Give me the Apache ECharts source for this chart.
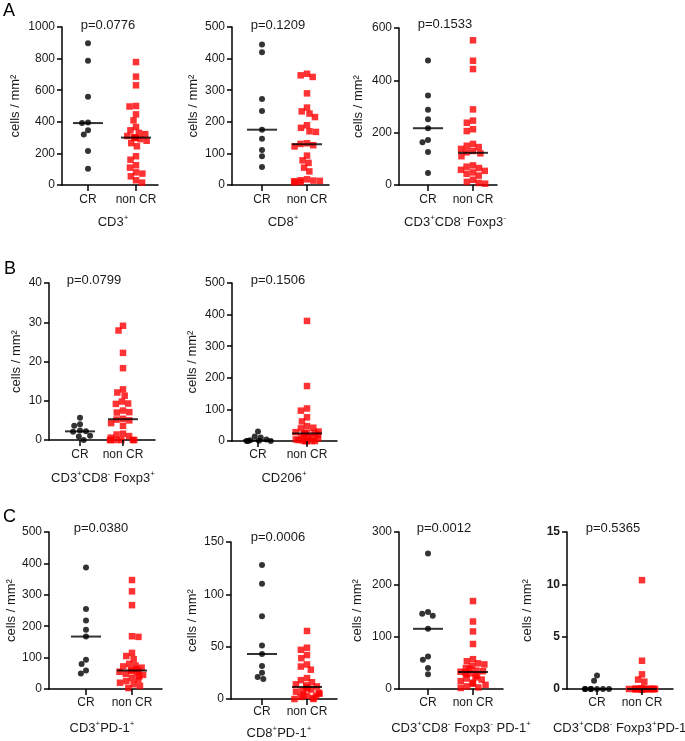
<!DOCTYPE html>
<html><head><meta charset="utf-8">
<script src="https://cdn.jsdelivr.net/npm/echarts@6/dist/echarts.min.js"></script>
<style>html,body{margin:0;padding:0;background:#fff}#c{width:685px;height:741px}</style>
</head><body><div id="c"></div>
<script>
// ---------- DATA ----------
const categories = ['CR', 'non CR'];

const cd3CR  = [897, 787, 559, 396, 392, 346, 319, 215, 103];
const cd3Non = [778, 686, 631, 500, 497, 447, 409, 367, 346, 330, 322, 310, 302, 300, 298, 290, 280, 265, 245, 182, 160, 125, 110, 80, 72, 55, 30, 15];
const cd3Median = [392, 300];

const cd8CR  = [445, 420, 272, 234, 175, 146, 111, 91, 57];
const cd8Non = [352, 347, 342, 290, 245, 233, 226, 215, 189, 181, 170, 168, 132, 130, 126, 122, 93, 78, 70, 55, 43, 18, 15, 14, 13, 12, 10, 8];
const cd8Median = [175, 129];

const foxNegCR  = [476, 342, 288, 251, 217, 172, 163, 126, 46];
const foxNegNon = [553, 475, 443, 289, 246, 238, 213, 206, 157, 150, 145, 138, 130, 125, 121, 110, 75, 70, 65, 58, 54, 48, 43, 36, 20, 12, 8, 5];
const foxNegMedian = [217, 123];

const foxPosCR  = [5.7, 4.0, 3.6, 2.4, 2.2, 2.1, 1.1, 0.9, 0];
const foxPosNon = [29.1, 27.9, 22.2, 18.3, 12.9, 12.1, 11.3, 9.8, 9.3, 9.2, 7.5, 7.1, 7.0, 5.4, 5.2, 5.0, 4.3, 3.6, 1.6, 1.4, 1.0, 0.6, 0, 0, 0, 0, 0, 0];
const foxPosMedian = [2.2, 5.3];

const cd206CR  = [30, 14, 11, 5, 2, 1, 0, 0, 0];
const cd206Non = [380, 174, 103, 96, 75, 62, 47, 42, 40, 30, 28, 26, 25, 24, 23, 20, 15, 12, 10, 8, 5, 3, 2, 0, 0, 0, 0, 0];
const cd206Median = [2, 24];

const cd3pdCR  = [387, 255, 218, 189, 167, 93, 80, 59, 49];
const cd3pdNon = [347, 311, 267, 168, 166, 115, 105, 95, 80, 75, 72, 68, 64, 60, 58, 57, 55, 52, 48, 45, 40, 35, 30, 25, 20, 15, 10, 3];
const cd3pdMedian = [167, 59];

const cd8pdCR  = [128, 110, 79, 51, 43, 31.5, 25, 21, 19];
const cd8pdNon = [65, 49, 47, 42, 39, 33, 31, 28, 20, 18, 16, 14, 13, 12, 11, 10, 9, 8, 7, 6, 5, 4, 3, 3, 2, 1, 0, 0];
const cd8pdMedian = [43, 11.5];

const foxNegPdCR  = [259, 147, 144, 140, 115, 62, 56, 40, 28];
const foxNegPdNon = [168, 129, 110, 86, 57, 53, 49, 47, 44, 40, 38, 35, 34, 33, 32, 30, 28, 25, 22, 20, 18, 15, 12, 10, 8, 5, 3, 2];
const foxNegPdMedian = [115, 32.5];

const foxPosPdCR  = [1.3, 0.8, 0, 0, 0, 0, 0, 0, 0];
const foxPosPdNon = [10.4, 2.7, 1.4, 0.9, 0.7, 0, 0, 0, 0, 0, 0, 0, 0, 0, 0, 0, 0, 0, 0, 0, 0, 0, 0, 0, 0, 0, 0, 0];
const foxPosPdMedian = [0, 0];

const yMaxes    = [1000, 500, 600, 40, 500, 500, 150, 300, 15];
const yIntervals = [200, 100, 200, 10, 100, 100, 50, 100, 5];
const pLabels = ['p=0.0776', 'p=0.1209', 'p=0.1533', 'p=0.0799', 'p=0.1506', 'p=0.0380', 'p=0.0006', 'p=0.0012', 'p=0.5365'];
const markerLabels = [
  '{n|CD3}{s|+}',
  '{n|CD8}{s|+}',
  '{n|CD3}{s|+}{n|CD8}{s|-}{n| Foxp3}{s|-}',
  '{n|CD3}{s|+}{n|CD8}{s|-}{n| Foxp3}{s|+}',
  '{n|CD206}{s|+}',
  '{n|CD3}{s|+}{n|PD-1}{s|+}',
  '{n|CD8}{s|+}{n|PD-1}{s|+}',
  '{n|CD3}{s|+}{n|CD8}{s|-}{n| Foxp3}{s|-}{n| PD-1}{s|+}',
  '{n|CD3}{s|+}{n|CD8}{s|-}{n| Foxp3}{s|+}{n|PD-1}{s|+}'
];
const panelLetters = ['A', 'B', 'C'];
const yAxisTitle = 'cells / mm\u00B2';

const crSets  = [cd3CR, cd8CR, foxNegCR, foxPosCR, cd206CR, cd3pdCR, cd8pdCR, foxNegPdCR, foxPosPdCR];
const nonSets = [cd3Non, cd8Non, foxNegNon, foxPosNon, cd206Non, cd3pdNon, cd8pdNon, foxNegPdNon, foxPosPdNon];
const medSets = [cd3Median, cd8Median, foxNegMedian, foxPosMedian, cd206Median, cd3pdMedian, cd8pdMedian, foxNegPdMedian, foxPosPdMedian];

// ---------- LAYOUT (pixels) ----------
// ax, xe, top, zero, c1, c2, pX, pY, labX, labY, catY, nameX, boldTicks
const layout = [
  [62, 158, 27, 185, 88, 136, 108, 25, 113, 222, 201, 15, false],
  [232, 329, 27, 185, 262, 307, 278, 25, 283, 222, 201, 193, false],
  [399, 497, 28, 185, 428, 473, 445, 24, 455, 222, 201, 358, false],
  [49, 155, 283, 440, 80, 123, 94, 280, 103, 478, 456, 16, false],
  [232, 337, 283, 441, 258, 307, 278, 280, 284, 478, 456, 192, false],
  [49, 162, 532, 689, 86, 132, 101, 528, 102, 728, 704, 16, false],
  [231, 337, 542, 699, 262, 307, 278, 537, 279, 733, 713, 192, false],
  [399, 503, 532, 689, 428, 473, 444, 528, 461, 728, 704, 357, false],
  [567, 673, 532, 689, 597, 642, 613, 528, 622, 728, 704, 527, true]
];
const letterPos = [[3, 11], [4, 269], [3, 517]];
const TICK_LEN = 6;

const FONT = '"Liberation Sans", Arial, Helvetica, sans-serif';
const TXT = '#1a1a1a';
const lineStyle = { color: '#000', width: 1.5 };

const grids = [], xAxes = [], yAxes = [], series = [], graphics = [];
const tickAxes = [];

layout.forEach((L, i) => {
  const [ax, xe, top, zero, c1, c2, pX, pY, labX, labY, catY, nameX, bold] = L;
  const W = 2 * (c2 - c1);
  const gl = c1 - W / 4;
  const h = zero - top;

  // frame grid (axis lines, y ticks/labels/title)
  const gF = grids.length;
  grids.push({ left: ax, top: top, width: xe - ax, height: h });
  xAxes.push({ gridIndex: gF, type: 'value', min: 0, max: 1,
    axisLine: { show: true, onZero: false, lineStyle },
    axisTick: { show: false }, axisLabel: { show: false }, splitLine: { show: false } });
  yAxes.push({ gridIndex: gF, type: 'value', min: 0, max: yMaxes[i], interval: yIntervals[i],
    axisLine: { show: true, lineStyle }, axisTick: { show: true, length: 5, lineStyle },
    axisLabel: { margin: 7, fontSize: 12, color: TXT, fontFamily: FONT, fontWeight: bold ? 'bold' : 'normal',
      formatter: v => String(v) },
    splitLine: { show: false },
    name: yAxisTitle, nameLocation: 'middle', nameGap: ax - nameX - 7,
    nameTextStyle: { fontSize: 13, color: TXT, fontFamily: FONT } });

  // data grid
  const gD = grids.length;
  grids.push({ left: gl, top: top, width: W, height: h });
  const xD = xAxes.length;
  xAxes.push({ gridIndex: gD, type: 'category', data: categories,
    jitter: 26, jitterOverlap: false, jitterMargin: 0,
    axisLine: { show: false }, axisTick: { show: false },
    axisLabel: { interval: 0, hideOverlap: false, margin: catY - zero - 7, fontSize: 12, color: TXT, fontFamily: FONT },
    splitLine: { show: false } });
  const yD = yAxes.length;
  yAxes.push({ gridIndex: gD, type: 'value', min: 0, max: yMaxes[i], show: false });
  series.push({ type: 'scatter', xAxisIndex: xD, yAxisIndex: yD, symbol: 'circle', symbolSize: 6,
    itemStyle: { color: '#000' }, data: crSets[i].map(v => [categories[0], v]), z: 2, clip: false });
  series.push({ type: 'scatter', xAxisIndex: xD, yAxisIndex: yD, symbol: 'rect', symbolSize: 6.5,
    itemStyle: { color: '#ff0000' }, data: nonSets[i].map(v => [categories[1], v]), z: 2, clip: false });

  // median grid
  const gM = grids.length;
  grids.push({ left: gl, top: top, width: W, height: h });
  const xM = xAxes.length;
  xAxes.push({ gridIndex: gM, type: 'category', data: categories, show: false });
  const yM = yAxes.length;
  yAxes.push({ gridIndex: gM, type: 'value', min: 0, max: yMaxes[i], show: false });
  series.push({ type: 'scatter', xAxisIndex: xM, yAxisIndex: yM, symbol: 'rect', symbolSize: [30, 2],
    itemStyle: { color: '#000' }, data: medSets[i].map((v, k) => [categories[k], v]), z: 5, clip: false });
  tickAxes.push({ xAxisIndex: xM, yAxisIndex: yM });

  graphics.push({ id: 'p' + i, type: 'text', x: pX, y: pY, z: 10,
    style: { text: pLabels[i], fontSize: 13, fontFamily: FONT, fill: TXT, align: 'center', verticalAlign: 'middle' } });
  graphics.push({ id: 'm' + i, type: 'text', x: labX, y: labY, z: 10,
    style: { text: markerLabels[i], align: 'center', verticalAlign: 'middle',
      rich: { n: { fontSize: 13, fontFamily: FONT, fill: TXT, lineHeight: 16 },
              s: { fontSize: 8, fontFamily: FONT, fill: TXT, verticalAlign: 'top', lineHeight: 9 } } } });
});

panelLetters.forEach((t, k) => {
  graphics.push({ id: 'L' + k, type: 'text', x: letterPos[k][0], y: letterPos[k][1], z: 10,
    style: { text: t, fontSize: 18, fontFamily: FONT, fill: '#000', align: 'left', verticalAlign: 'middle' } });
});

const chart = echarts.init(document.getElementById('c'), null, { renderer: 'canvas' });
chart.setOption({
  animation: false,
  backgroundColor: '#fff',
  grid: grids, xAxis: xAxes, yAxis: yAxes, series: series, graphic: graphics
});

// category tick marks, positioned through the library's own axes
const tickLines = [];
tickAxes.forEach((finder, i) => {
  categories.forEach((c, k) => {
    const pt = chart.convertToPixel(finder, [c, 0]);
    if (!pt) return;
    const x = Math.round(pt[0]);
    tickLines.push({ id: 't' + i + '_' + k, type: 'line', z: 20, silent: true,
      shape: { x1: x, y1: pt[1], x2: x, y2: pt[1] + TICK_LEN },
      style: { stroke: '#000', lineWidth: 1.5 } });
  });
});
chart.setOption({ graphic: tickLines });
</script></body></html>
